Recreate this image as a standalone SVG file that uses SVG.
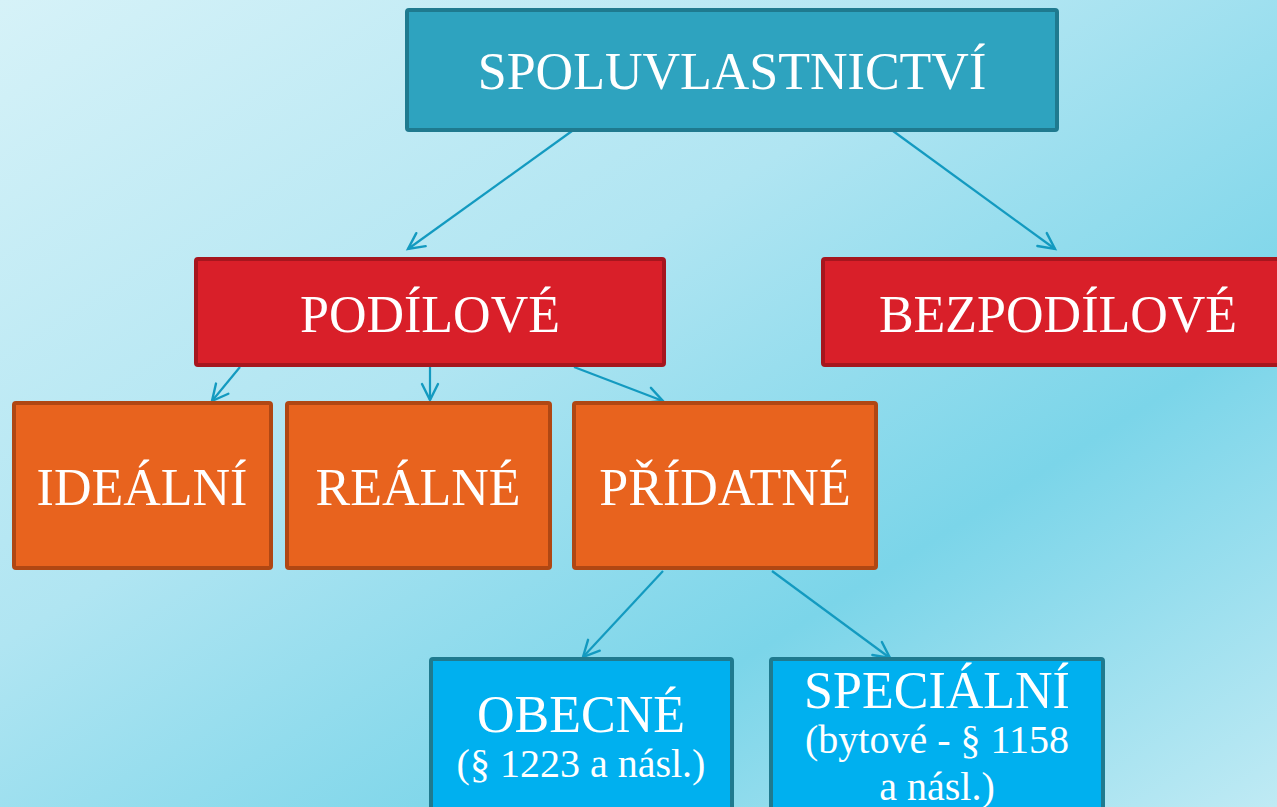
<svg xmlns="http://www.w3.org/2000/svg" width="1277" height="807" viewBox="0 0 1277 807">
<defs>
<linearGradient id="bg" x1="0" y1="0" x2="1" y2="1">
<stop offset="0" stop-color="#d6f2f8"/>
<stop offset="0.4" stop-color="#b0e5f2"/>
<stop offset="0.7" stop-color="#7bd5e9"/>
<stop offset="1" stop-color="#bfeaf4"/>
</linearGradient>
<marker id="ah" markerUnits="userSpaceOnUse" markerWidth="24" markerHeight="24" viewBox="0 0 24 24" refX="20" refY="12" orient="auto">
<path d="M4,4 L20,12 L4,20" fill="none" stroke="#139ac0" stroke-width="2.4" stroke-linecap="round"/>
</marker>
<style>
.t{font-family:"Liberation Serif","DejaVu Serif",serif;fill:#ffffff;text-anchor:middle}
.big{font-size:52px}
.sm{font-size:40px}
.teal{fill:#2ea3bf;stroke:#1f7a8f;stroke-width:4}
.red{fill:#d91f29;stroke:#a6161e;stroke-width:4}
.org{fill:#e8631e;stroke:#b04713;stroke-width:4}
.blu{fill:#00b0ef;stroke:#1f7a8f;stroke-width:4}
.c{stroke:#139ac0;stroke-width:2.2;fill:none;marker-end:url(#ah)}
</style>
</defs>
<rect x="0" y="0" width="1277" height="807" fill="url(#bg)"/>
<g id="connectors">
<line class="c" x1="572" y1="131" x2="408" y2="249"/>
<line class="c" x1="893" y1="131" x2="1055" y2="249"/>
<line class="c" x1="240" y1="367" x2="212" y2="401"/>
<line class="c" x1="430" y1="367" x2="430" y2="400"/>
<line class="c" x1="574" y1="367" x2="663" y2="401"/>
<line class="c" x1="663" y1="571" x2="583" y2="657"/>
<line class="c" x1="772" y1="571" x2="890" y2="658"/>
</g>
<g id="spoluvlastnictvi">
<rect class="teal" x="407" y="10" width="650" height="120" rx="2"/>
<text class="t big" x="732" y="89">SPOLUVLASTNICTVÍ</text>
</g>
<g id="podilove">
<rect class="red" x="196" y="259" width="468" height="106" rx="2"/>
<text class="t big" x="430" y="332">PODÍLOVÉ</text>
</g>
<g id="bezpodilove">
<rect class="red" x="823" y="259" width="460" height="106" rx="2"/>
<text class="t big" x="1058" y="332">BEZPODÍLOVÉ</text>
</g>
<g id="idealni">
<rect class="org" x="14" y="403" width="257" height="165" rx="2"/>
<text class="t big" x="142" y="505">IDEÁLNÍ</text>
</g>
<g id="realne">
<rect class="org" x="287" y="403" width="263" height="165" rx="2"/>
<text class="t big" x="418" y="505">REÁLNÉ</text>
</g>
<g id="pridatne">
<rect class="org" x="574" y="403" width="302" height="165" rx="2"/>
<text class="t big" x="725" y="505">PŘÍDATNÉ</text>
</g>
<g id="obecne">
<rect class="blu" x="431" y="659" width="301" height="160" rx="2"/>
<text class="t big" x="581" y="732">OBECNÉ</text>
<text class="t sm" x="581" y="777">(§ 1223 a násl.)</text>
</g>
<g id="specialni">
<rect class="blu" x="771" y="659" width="332" height="160" rx="2"/>
<text class="t big" x="937" y="708">SPECIÁLNÍ</text>
<text class="t sm" x="937" y="753">(bytové - § 1158</text>
<text class="t sm" x="937" y="800">a násl.)</text>
</g>
</svg>
